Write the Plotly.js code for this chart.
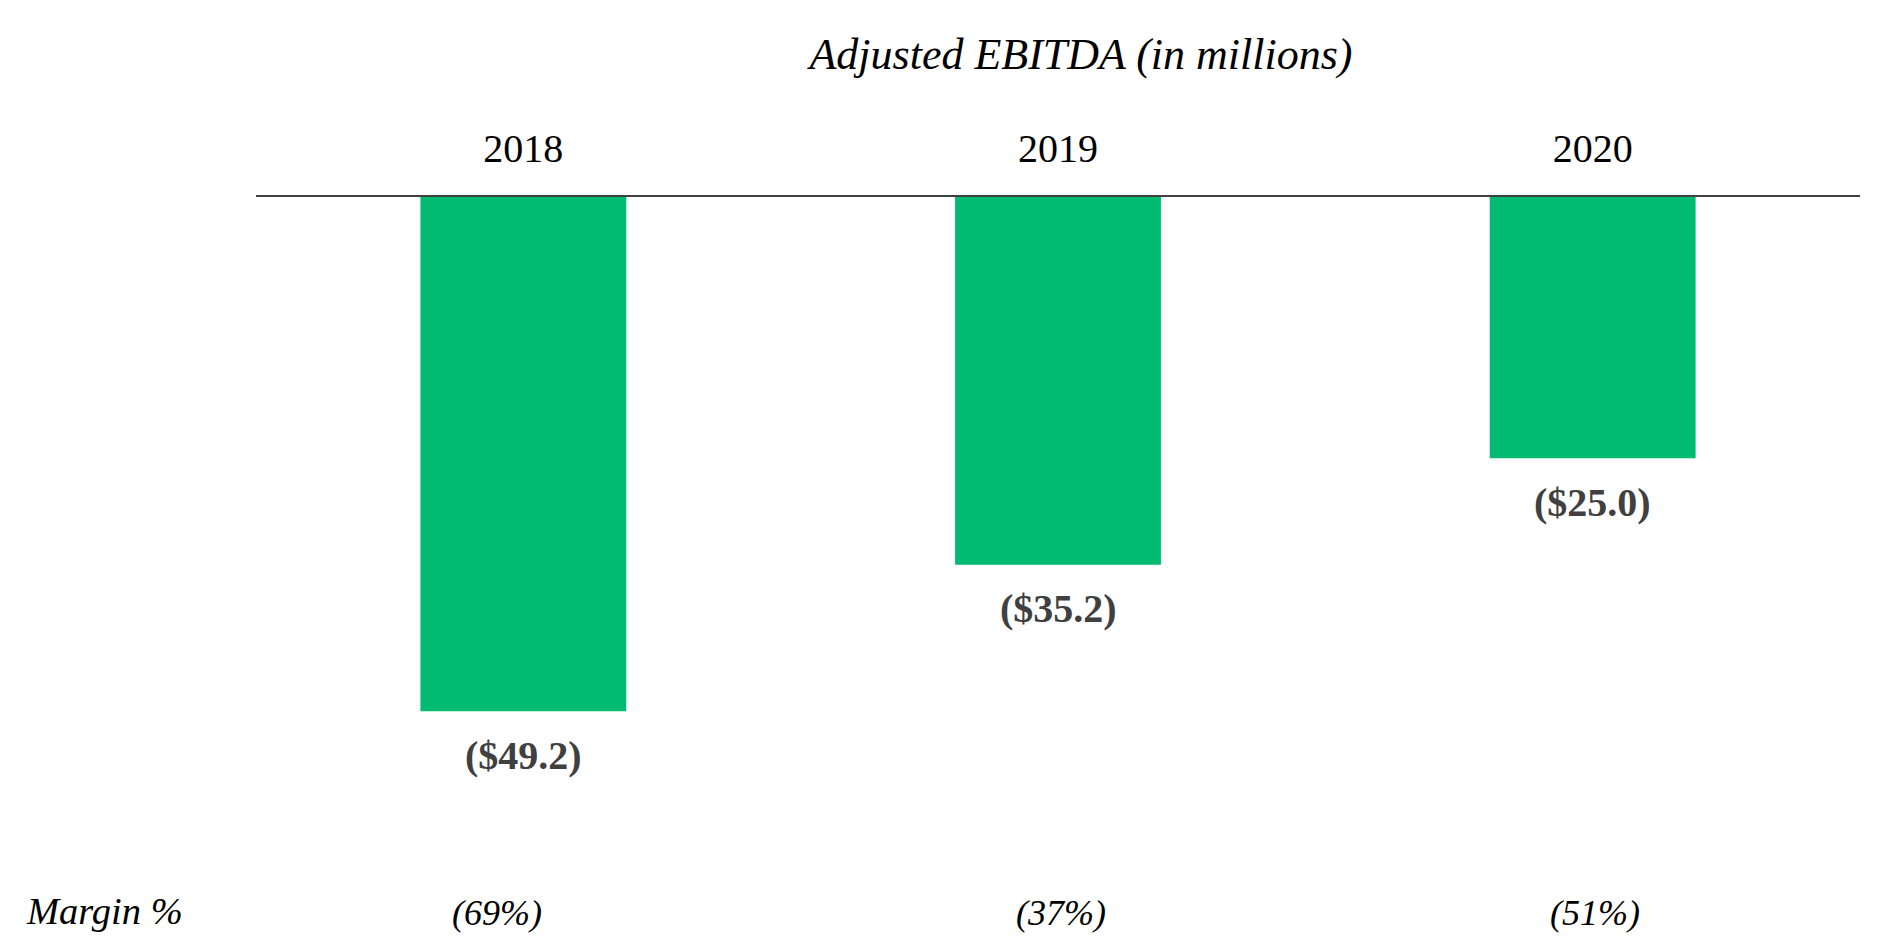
<!DOCTYPE html>
<html>
<head>
<meta charset="utf-8">
<script src="https://cdn.plot.ly/plotly-3.0.1.min.js"></script>
<style>html,body{margin:0;padding:0;background:#fff;}#chart{width:1890px;height:949px;}</style>
</head>
<body>
<div id="chart"></div>
<script>
const years = ['2018', '2019', '2020'];
const ebitda = [-49.2, -35.2, -25.0];
const ebitdaLabels = ['($49.2)', '($35.2)', '($25.0)'];
const marginLabels = ['(69%)', '(37%)', '(51%)'];
const rowLabel = 'Margin %';
const chartTitle = 'Adjusted EBITDA (in millions)';

const W = 1890, H = 949;
const mL = 255.5, mR = 30, mT = 196.5, mB = 124.5;
const pw = W - mL - mR;
const ph = H - mT - mB;
const serif = 'Liberation Serif, Times New Roman, serif';
const marginShift = [-26, 3, 2];

const valueAnnotations = years.map((yr, i) => ({
  x: i, y: ebitda[i], xref: 'x', yref: 'y',
  text: '<b>' + ebitdaLabels[i] + '</b>',
  showarrow: false, xanchor: 'center', yanchor: 'middle', yshift: -44,
  font: {family: serif, size: 40, color: '#404040'}
}));
const marginAnnotations = years.map((yr, i) => ({
  x: i, y: (H - 914 - mB) / ph, xref: 'x', yref: 'paper',
  text: '<i>' + marginLabels[i] + '</i>',
  showarrow: false, xanchor: 'center', yanchor: 'middle', xshift: marginShift[i],
  font: {family: serif, size: 36, color: '#000000'}
}));
const rowAnnotation = {
  x: (23 - mL) / pw, y: (H - 912 - mB) / ph, xref: 'paper', yref: 'paper',
  xanchor: 'left', yanchor: 'middle', showarrow: false,
  text: '<i>' + rowLabel + '</i>',
  font: {family: serif, size: 38.5, color: '#000000'}
};

const trace = {
  type: 'bar', x: [0, 1, 2], y: ebitda,
  marker: {color: '#00BB71'},
  width: 0.385,
  hoverinfo: 'skip'
};

const layout = {
  width: W, height: H,
  margin: {l: mL, r: mR, t: mT, b: mB, pad: 0},
  paper_bgcolor: '#ffffff', plot_bgcolor: '#ffffff',
  showlegend: false,
  title: {
    text: '<i>' + chartTitle + '</i>',
    xref: 'container', yref: 'container',
    x: 1081 / W, xanchor: 'center',
    y: 1 - 54 / H, yanchor: 'middle',
    font: {family: serif, size: 44, color: '#000000'}
  },
  xaxis: {
    type: 'linear', side: 'top', range: [-0.5, 2.5],
    tickmode: 'array', tickvals: [0, 1, 2], ticktext: years,
    showline: true, linecolor: '#404040', linewidth: 2,
    ticks: 'outside', ticklen: 17, tickcolor: 'rgba(0,0,0,0)',
    showgrid: false, zeroline: false,
    tickfont: {family: serif, size: 40, color: '#000000'},
    fixedrange: true
  },
  yaxis: {
    range: [-60, 0], visible: false, showgrid: false, zeroline: false,
    fixedrange: true
  },
  annotations: valueAnnotations.concat(marginAnnotations, [rowAnnotation])
};

Plotly.newPlot('chart', [trace], layout, {displayModeBar: false, staticPlot: true});
</script>
</body>
</html>
